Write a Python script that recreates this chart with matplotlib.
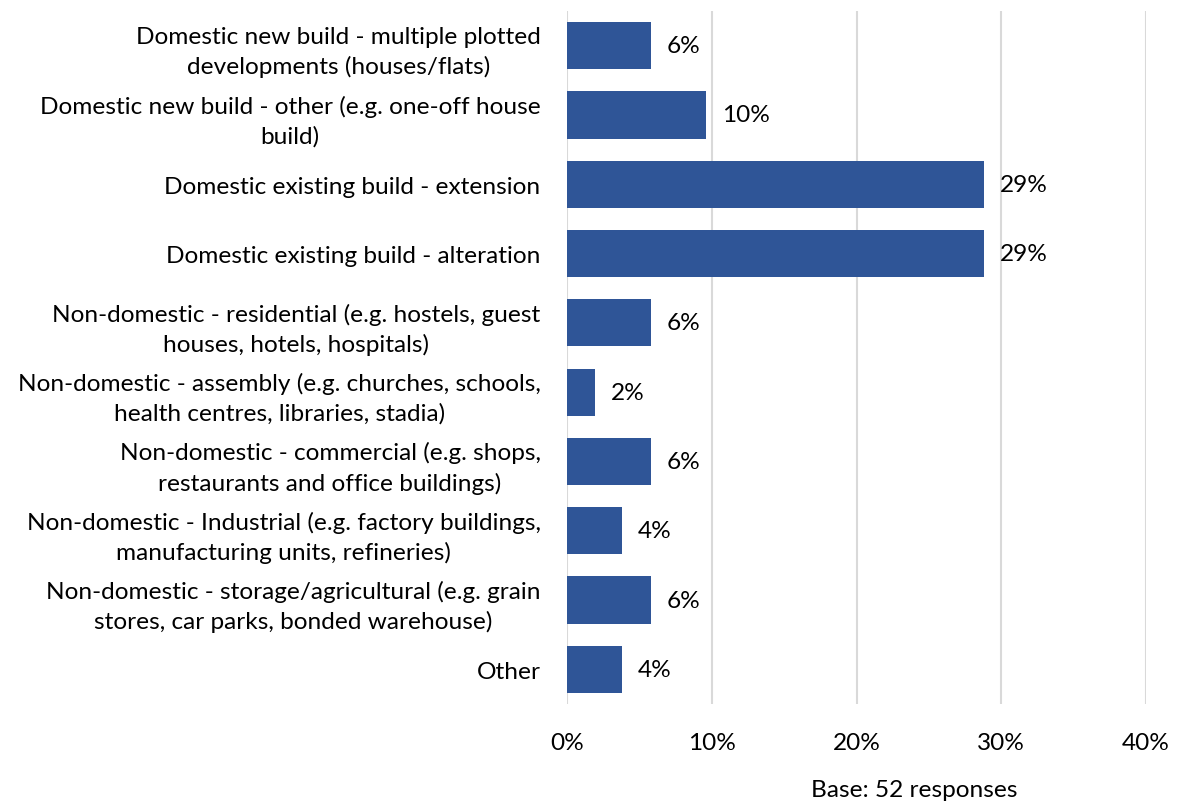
import matplotlib.pyplot as plt
from matplotlib.ticker import FuncFormatter

# ── DATA ──────────────────────────────────────────────────
categories = [
    "Domestic new build - multiple plotted\ndevelopments (houses/flats)",
    "Domestic new build - other (e.g. one-off house\nbuild)",
    "Domestic existing build - extension",
    "Domestic existing build - alteration",
    "Non-domestic - residential (e.g. hostels, guest\nhouses, hotels, hospitals)",
    "Non-domestic - assembly (e.g. churches, schools,\nhealth centres, libraries, stadia)",
    "Non-domestic - commercial (e.g. shops,\nrestaurants and office buildings)",
    "Non-domestic - Industrial (e.g. factory buildings,\nmanufacturing units, refineries)",
    "Non-domestic - storage/agricultural (e.g. grain\nstores, car parks, bonded warehouse)",
    "Other",
]
values = [5.8, 9.6, 28.8, 28.8, 5.8, 1.9, 5.8, 3.8, 5.8, 3.8]
value_labels = ["6%", "10%", "29%", "29%", "6%", "2%", "6%", "4%", "6%", "4%"]
x_ticks = [0, 10, 20, 30, 40]
base_note = "Base: 52 responses"

# ── STYLE ─────────────────────────────────────────────────
plt.rcParams["font.family"] = ["Lato", "DejaVu Sans"]
FONT = 17.6
BAR = "#2F5597"
GRID = "#D9D9D9"

W, H = 1178, 803
fig = plt.figure(figsize=(W / 100, H / 100), dpi=100)
ax = fig.add_axes([567 / W, 1 - 705 / H, (1146 - 567) / W, (705 - 12) / H])

pos = list(range(len(categories)))
ax.barh(pos, values, height=0.68, color=BAR, zorder=3)

for p, v, t in zip(pos, values, value_labels):
    ax.annotate(t, (v, p), xytext=(11.5, 0), textcoords="offset points",
                va="center", ha="left", fontsize=FONT, color="#000000")

ax.set_ylim(len(categories) - 0.5, -0.5)
ax.set_xlim(0, 40)
ax.set_yticks(pos)
ax.set_yticklabels(categories, fontsize=FONT)
for lbl in ax.get_yticklabels():
    lbl.set_multialignment("center")
    lbl.set_linespacing(1.45)
ax.set_xticks(x_ticks)
ax.xaxis.set_major_formatter(FuncFormatter(lambda v, _: f"{v:.0f}%"))
ax.tick_params(axis="x", labelsize=FONT, length=0, pad=20)
ax.tick_params(axis="y", length=0, pad=19)

ax.grid(axis="x", color=GRID, linewidth=1.5, zorder=0)
for s in ax.spines.values():
    s.set_visible(False)

fig.text(914 / W, 1 - 791 / H, base_note, ha="center", va="center", fontsize=FONT)

fig.savefig("out.png", dpi=100)
